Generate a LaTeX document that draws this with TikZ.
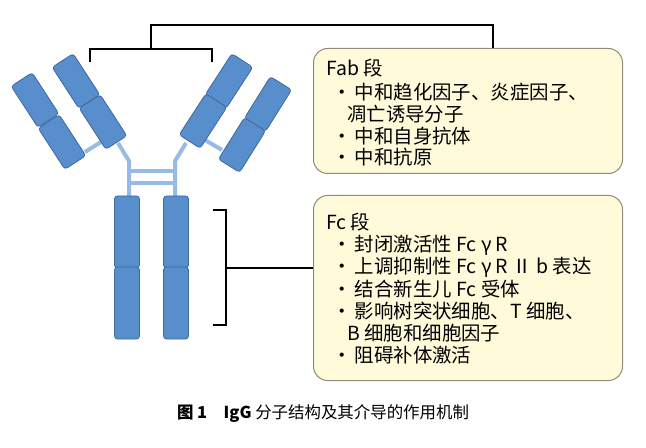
\documentclass[tikz,border=0pt]{standalone}
\usepackage{fontspec}
\newfontfamily\cjk{Noto Sans CJK SC}
\setmainfont{Liberation Serif}
\definecolor{dom}{RGB}{88,142,204}
\definecolor{domline}{RGB}{62,104,158}
\definecolor{hinge}{RGB}{150,188,228}
\definecolor{note}{RGB}{255,251,218}
\definecolor{noteline}{RGB}{140,140,120}
\tikzset{
  igdom/.style={draw=domline,fill=dom,rounded corners=3bp,minimum width=25bp,minimum height=49bp,inner sep=0pt,line width=.8bp},
  link/.style={hinge,line width=4bp},
  notebox/.style={draw=noteline,fill=note,rounded corners=14bp,line width=1bp,minimum width=309bp,inner sep=0pt},
  item/.style={anchor=west,inner sep=0pt,font=\cjk\fontsize{19.5}{21}\selectfont},
  bracket/.style={line width=1.2bp}
}
\begin{document}
\begin{tikzpicture}[x=1bp,y=-1bp]
  \useasboundingbox (0,0) rectangle (646,448);
  % hinge and links
  \draw[link] (118,143) -- (129,161) -- (129,198);
  \draw[link] (186,143) -- (175,161) -- (175,198);
  \draw[link] (129,171) -- (175,171);
  \draw[link] (129,183) -- (175,183);
  \draw[link] (85,152) -- (101,142);
  \draw[link] (205,140) -- (222,150);
  % Fc domains
  \node[igdom,minimum height=72bp] (fcla) at (127,232) {};
  \node[igdom,minimum height=72bp] (fclb) at (127,303) {};
  \node[igdom,minimum height=72bp] (fcra) at (176,232) {};
  \node[igdom,minimum height=72bp] (fcrb) at (176,303) {};
  % Fab domains
  \node[igdom,rotate=33] (fila) at (76,81) {};
  \node[igdom,rotate=33] (filb) at (103,122) {};
  \node[igdom,rotate=33] (fola) at (35,100) {};
  \node[igdom,rotate=33] (folb) at (62,142) {};
  \node[igdom,rotate=-33] (fira) at (229,81) {};
  \node[igdom,rotate=-33] (firb) at (203,121) {};
  \node[igdom,rotate=-32] (fora) at (268,104) {};
  \node[igdom,rotate=-32] (forb) at (242,145) {};
  % notes
  \node[notebox,minimum height=125bp,anchor=north west] (fab) at (313,48) {};
  \node[notebox,minimum height=185bp,anchor=north west] (fc) at (313,195) {};
  \node[item] (fab0) at (326,68) {Fab 段};
  \node[item] (fab1) at (332,92) {·\,中和趋化因子、炎症因子、};
  \node[item] (fab2) at (347,114) {凋亡诱导分子};
  \node[item] (fab3) at (332,136) {·\,中和自身抗体};
  \node[item] (fab4) at (332,157) {·\,中和抗原};
  \node[item] (fc0) at (326,222) {Fc 段};
  \node[item] (fc1) at (332,245) {·\,封闭激活性 Fc γ R};
  \node[item] (fc2) at (332,267) {·\,上调抑制性 Fc γ R Ⅱ b 表达};
  \node[item] (fc3) at (332,289) {·\,结合新生儿 Fc 受体};
  \node[item] (fc4) at (332,311) {·\,影响树突状细胞、T 细胞、};
  \node[item] (fc5) at (347,333) {B 细胞和细胞因子};
  \node[item] (fc6) at (332,355) {·\,阻碍补体激活};
  % brackets
  \draw[bracket] (90,62) -- (90,49) -- (212,49) -- (212,62);
  \draw[bracket] (151,49) -- (151,25) -- (493,25) -- (fab.north -| 493,0);
  \draw[bracket] (213,210) -- (226,210) -- (226,325) -- (213,325);
  \draw[bracket] (226,268) -- (fc.west |- 0,268);
  % caption
  \node[font=\cjk\fontsize{16.5}{19}\selectfont] (cap) at (323,414)
    {\textbf{图 1}\quad\textbf{IgG} 分子结构及其介导的作用机制};
\end{tikzpicture}
\end{document}
